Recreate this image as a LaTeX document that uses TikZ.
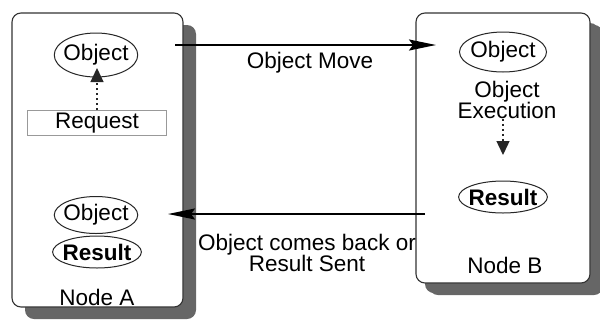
\documentclass[tikz,border=0pt]{standalone}
\usepackage{fontspec}
\setmainfont{Liberation Sans}
\usetikzlibrary{shapes.geometric,arrows.meta,shadows}
\tikzset{
  hostbox/.style={draw=black!80, line width=1.1pt, fill=white, rounded corners=9pt,
    general shadow={fill=black!60, shadow xshift=13pt, shadow yshift=-12pt}},
  oval/.style={draw=black!85, line width=1pt, ellipse, inner xsep=-3pt, inner ysep=0pt,
    font=\fontsize{22.5}{24}\selectfont},
  lbl/.style={font=\fontsize{22.5}{21}\selectfont, inner sep=0pt, align=center},
  reqbox/.style={draw=black!40, line width=0.8pt, minimum width=139pt, minimum height=25pt,
    inner sep=0pt, font=\fontsize{22.5}{24}\selectfont},
  bigarrow/.style={line width=1.8pt, -{Stealth[length=27pt, width=11pt, inset=4pt]}},
  dotarrow/.style={line width=1.4pt, dash pattern=on 2.5pt off 2.5pt, black!85,
    -{Triangle[length=14pt, width=13pt]}}
}
\begin{document}
\begin{tikzpicture}[x=1pt, y=-1pt]
\useasboundingbox (0,0) rectangle (600,325);
% host boxes
\node[hostbox, minimum width=171pt, minimum height=294pt] (A) at (97.5,160) {};
\node[hostbox, minimum width=174pt, minimum height=270pt, general shadow={fill=black!60, shadow xshift=9pt, shadow yshift=-10pt}] (B) at (503,148) {};
% Node A contents
\node[oval, minimum width=80pt, minimum height=44pt] (objA) at (96,55) {Object};
\node[reqbox] (req) at (97,123) {Request};
\node[oval, minimum width=82pt, minimum height=37pt] (objA2) at (96,215) {Object};
\node[oval, minimum width=87pt, minimum height=32pt] (resA) at (97,252) {\bfseries Result};
\node[lbl] (labA) at (97,297) {Node A};
% Node B contents
\node[oval, minimum width=87pt, minimum height=40pt] (objB) at (503,52) {Object};
\node[lbl] (exec) at (507,100) {Object\\Execution};
\node[oval, minimum width=88pt, minimum height=32pt] (resB) at (503,197) {\bfseries Result};
\node[lbl] (labB) at (505,265) {Node B};
% labels between
\node[lbl] (mvl) at (310,63) {Object Move};
\node[lbl] (backl) at (307,253) {Object comes back or\\Result Sent};
% connectors
\coordinate (mvS) at (175,45);
\coordinate (mvE) at (436,45);
\coordinate (bkS) at (425,214);
\coordinate (bkE) at (168,214);
\coordinate (tipA) at (97,68);
\coordinate (tipB) at (503,155);
\draw[bigarrow] (mvS) -- (mvE);
\draw[bigarrow] (bkS) -- (bkE);
\draw[dotarrow] (req.north) -- (tipA);
\draw[dotarrow] (objB.south |- exec.south) -- (tipB);
\end{tikzpicture}
\end{document}
